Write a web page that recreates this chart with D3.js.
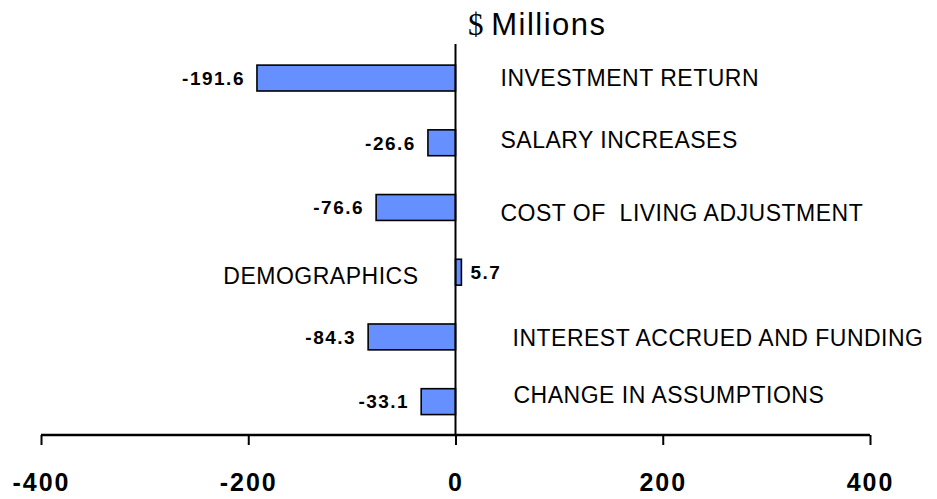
<!DOCTYPE html>
<html>
<head>
<meta charset="utf-8">
<script src="https://cdn.jsdelivr.net/npm/d3@7"></script>
<style>
  body { margin: 0; background: #fff; }
  text { font-family: Arial, "Liberation Sans", sans-serif; fill: #000; }
</style>
</head>
<body>
<svg id="chart" width="937" height="499"></svg>
<script>
// data
var categories = ["INVESTMENT RETURN", "SALARY INCREASES", "COST OF  LIVING ADJUSTMENT",
  "DEMOGRAPHICS", "INTEREST ACCRUED AND FUNDING", "CHANGE IN ASSUMPTIONS"];
var values = [-191.6, -26.6, -76.6, 5.7, -84.3, -33.1];
var tickValues = [-400, -200, 0, 200, 400];
var titleText = "Millions";

// small hand nudges for category labels (as in the original)
var labelDx = [45, 45, 45, 37, 57, 58];
var labelDy = [0, -3, 5, 3.5, 0.5, -6.5];

var svg = d3.select("#chart");

var x = d3.scaleLinear()
  .domain([-400, 400])
  .range([41, 870]);

var y = d3.scaleBand()
  .domain(categories)
  .range([45.7, 434])
  .paddingInner(0.6)
  .paddingOuter(0.3);

var rows = categories.map(function(c, i) { return { name: c, value: values[i], i: i }; });

// bars
svg.append("g").selectAll("rect")
  .data(rows)
  .enter().append("rect")
  .attr("x", function(d) { return x(Math.min(0, d.value)); })
  .attr("y", function(d) { return y(d.name); })
  .attr("width", function(d) { return Math.abs(x(d.value) - x(0)); })
  .attr("height", y.bandwidth())
  .style("fill", "#6690ff")
  .style("stroke", "#000")
  .style("stroke-width", 1.6);

// zero line
svg.append("line")
  .attr("x1", x(0)).attr("x2", x(0))
  .attr("y1", 44).attr("y2", 435)
  .style("stroke", "#000")
  .style("stroke-width", 2);

// x axis
var axis = svg.append("g")
  .attr("transform", "translate(0,435)")
  .call(d3.axisBottom(x).tickValues(tickValues).tickSize(10).tickSizeOuter(0).tickPadding(0).tickFormat(d3.format("d")));
axis.select(".domain").style("stroke-width", 2.4).attr("d", "M" + x(-400) + ",0H" + x(400));
axis.selectAll(".tick line").style("stroke-width", 2);
axis.selectAll(".tick text").remove();
axis.selectAll(".tick").append("text")
  .attr("y", 56)
  .attr("dx", 0)
  .attr("text-anchor", "middle")
  .style("font-family", "Arial, 'Liberation Sans', sans-serif")
  .style("font-size", "25px")
  .style("font-weight", "bold")
  .style("letter-spacing", "2px")
  .style("fill", "#000")
  .text(function(d) { return d; });

// value labels
svg.append("g").selectAll("text")
  .data(rows)
  .enter().append("text")
  .attr("x", function(d) { return d.value < 0 ? x(d.value) - 12 : x(d.value) + 9; })
  .attr("y", function(d) { return y(d.name) + y.bandwidth() / 2; })
  .attr("dy", "0.36em")
  .attr("text-anchor", function(d) { return d.value < 0 ? "end" : "start"; })
  .style("font-size", "19px")
  .style("font-weight", "bold")
  .style("letter-spacing", "1.5px")
  .text(function(d) { return d.value.toFixed(1); });

// category labels
svg.append("g").selectAll("text")
  .data(rows)
  .enter().append("text")
  .attr("x", function(d) { return d.value < 0 ? x(0) + labelDx[d.i] : x(0) - labelDx[d.i]; })
  .attr("y", function(d) { return y(d.name) + y.bandwidth() / 2 + labelDy[d.i]; })
  .attr("dy", "0.36em")
  .attr("text-anchor", function(d) { return d.value < 0 ? "start" : "end"; })
  .style("font-size", "23px")
  .style("letter-spacing", "0.5px")
  .style("white-space", "pre")
  .text(function(d) { return d.name; });

// title
var title = svg.append("text")
  .attr("x", 468)
  .attr("y", 35)
  .style("font-size", "31px");
title.append("tspan")
  .style("font-family", "'Liberation Serif', 'Times New Roman', serif")
  .text("$ ");
title.append("tspan")
  .style("letter-spacing", "1.5px")
  .text(titleText);
</script>
</body>
</html>
